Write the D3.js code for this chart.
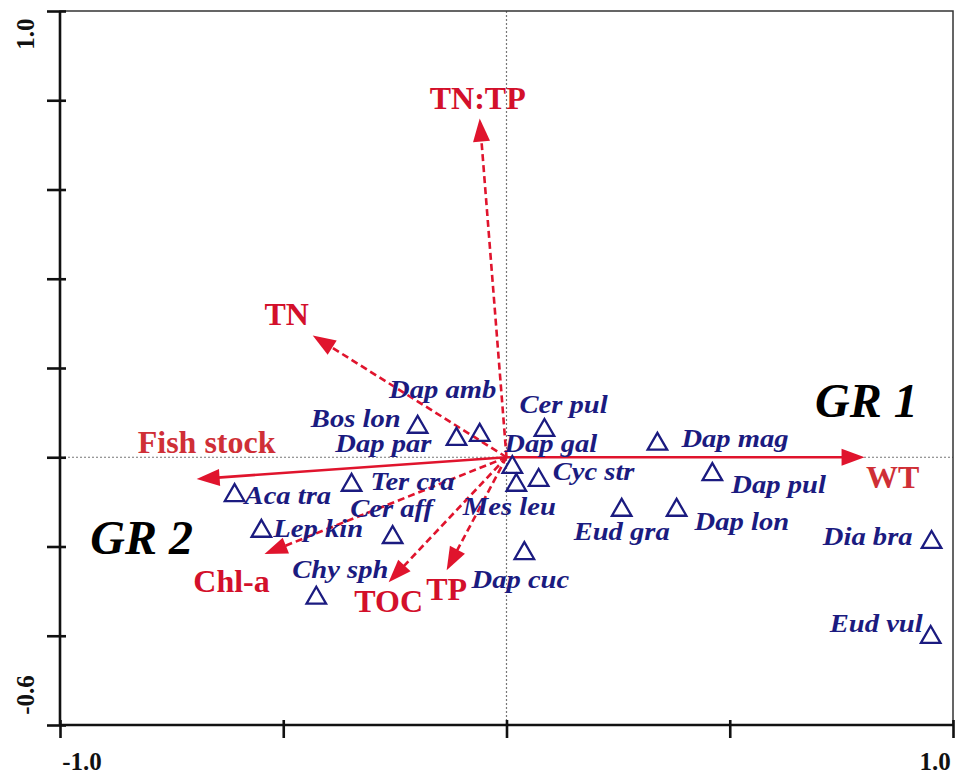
<!DOCTYPE html>
<html>
<head>
<meta charset="utf-8">
<script src="https://cdn.jsdelivr.net/npm/d3@7"></script>
<style>
  html, body { margin: 0; padding: 0; background: #fff; }
  svg { display: block; }
  text { font-family: "Liberation Serif", "Times New Roman", serif; }
</style>
</head>
<body>
<svg id="chart" width="956" height="776"></svg>
<script>
// ---- Species scores (RDA axis 1, axis 2) ----
const speciesNames = ["Aca tra", "Lep kin", "Ter cra", "Cer aff", "Chy sph", "Bos lon", "Dap par",
  "Dap amb", "Cer pul", "Dap gal", "Cyc str", "Mes leu", "Dap cuc", "Eud gra", "Dap lon",
  "Dap mag", "Dap pul", "Dia bra", "Eud vul"];
const speciesX = [-0.609, -0.549, -0.347, -0.255, -0.426, -0.199, -0.112,
  -0.060, 0.085, 0.013, 0.072, 0.022, 0.040, 0.258, 0.381,
  0.338, 0.461, 0.952, 0.950];
const speciesY = [-0.081, -0.161, -0.058, -0.175, -0.311, 0.072, 0.045,
  0.054, 0.065, -0.018, -0.047, -0.058, -0.211, -0.114, -0.114,
  0.034, -0.034, -0.186, -0.399];

// ---- Environmental variable vectors ----
const envNames = ["TN:TP", "TN", "Fish stock", "Chl-a", "TOC", "TP", "WT"];
const envX = [-0.060, -0.434, -0.694, -0.542, -0.264, -0.134, 0.802];
const envY = [0.759, 0.273, -0.049, -0.217, -0.280, -0.253, 0.0];
const envSolid = [false, false, true, false, false, false, true];

// ---- Axes ----
const xDomain = [-1.0, 1.0];
const yDomain = [-0.6, 1.0];
const xTicks = [-1.0, -0.5, 0, 0.5, 1.0];
const yTicks = [-0.6, -0.4, -0.2, 0, 0.2, 0.4, 0.6, 0.8, 1.0];
const xTickLabels = ["-1.0", "1.0"];
const yTickLabels = ["-0.6", "1.0"];

const groupLabels = ["GR 1", "GR 2"];

// ---- Layout (label offsets from the mark, in px) ----
const speciesLabelLayout = {
  "Aca tra": [10, 11, "start"],  "Lep kin": [12, 8, "start"],  "Ter cra": [19, 7, "start"],
  "Cer aff": [-1, -18, "middle"], "Chy sph": [24, -18, "middle"], "Bos lon": [-17, 2, "end"],
  "Dap par": [-25, 15, "end"],   "Dap amb": [-37, -35, "middle"], "Cer pul": [-25, -15, "start"],
  "Dap gal": [-8, -13, "start"], "Cyc str": [14, 2, "start"],  "Mes leu": [-7, 32, "middle"],
  "Dap cuc": [-4, 37, "middle"], "Eud gra": [0, 32, "middle"], "Dap lon": [18, 22, "start"],
  "Dap mag": [24, 5, "start"],   "Dap pul": [19, 21, "start"], "Dia bra": [-19, 5, "end"],
  "Eud vul": [-8, -3, "end"]
};
const envLabelLayout = {
  "TN:TP": [-2, -10], "TN": [-26, -10], "Fish stock": [10, -26], "Chl-a": [-33, 38],
  "TOC": [0, 30], "TP": [0, 30], "WT": [28, 31]
};

const svg = d3.select("#chart");
const x = d3.scaleLinear().domain(xDomain).range([60, 953]);
const y = d3.scaleLinear().domain(yDomain).range([725, 11]);

const RED = "#e0142d";
const NAVY = "#1b1b80";
const INK = "#111";

// reference lines through the origin
svg.append("line")
  .attr("x1", x(xDomain[0])).attr("x2", x(xDomain[1]))
  .attr("y1", y(0)).attr("y2", y(0))
  .attr("stroke", "#777").attr("stroke-width", 1.2).attr("stroke-dasharray", "2,2");
svg.append("line")
  .attr("x1", x(0)).attr("x2", x(0))
  .attr("y1", y(yDomain[0])).attr("y2", y(yDomain[1]))
  .attr("stroke", "#777").attr("stroke-width", 1.2).attr("stroke-dasharray", "2,2");

// frame
svg.append("rect")
  .attr("x", x(xDomain[0])).attr("y", y(yDomain[1]))
  .attr("width", x(xDomain[1]) - x(xDomain[0]))
  .attr("height", y(yDomain[0]) - y(yDomain[1]))
  .attr("fill", "none").attr("stroke", "#333").attr("stroke-width", 1.5);

// left and bottom axes
const yAxis = d3.axisLeft(y).tickValues(yTicks).tickSize(13).tickFormat("");
const gy = svg.append("g").attr("transform", `translate(${x(xDomain[0])},0)`).call(yAxis);
gy.selectAll(".tick line").attr("x2", -13).attr("x1", 6);
const xAxis = d3.axisBottom(x).tickValues(xTicks).tickSize(13).tickFormat("");
const gx = svg.append("g").attr("transform", `translate(0,${y(yDomain[0])})`).call(xAxis);
gx.selectAll(".tick line").attr("y1", -5);
[gx, gy].forEach(g => {
  g.select(".domain").attr("stroke", INK).attr("stroke-width", 2.6);
  g.selectAll(".tick line").attr("stroke", INK).attr("stroke-width", 2.6);
});
gy.select(".domain").attr("d", `M0,${y(yDomain[1])}V${y(yDomain[0])}`);
gx.select(".domain").attr("d", `M${x(xDomain[0])},0H${x(xDomain[1])}`);

// axis end labels
svg.append("text").text(xTickLabels[0])
  .attr("x", x(xDomain[0]) + 22).attr("y", 770)
  .attr("text-anchor", "middle").attr("font-size", 25).attr("font-weight", "bold").attr("fill", INK);
svg.append("text").text(xTickLabels[1])
  .attr("x", x(xDomain[1]) - 18).attr("y", 770)
  .attr("text-anchor", "middle").attr("font-size", 25).attr("font-weight", "bold").attr("fill", INK);
svg.append("text").text(yTickLabels[0])
  .attr("transform", `translate(34,${y(yDomain[0]) - 30}) rotate(-90)`)
  .attr("text-anchor", "middle").attr("font-size", 25).attr("font-weight", "bold").attr("fill", INK);
svg.append("text").text(yTickLabels[1])
  .attr("transform", `translate(34,${y(yDomain[1]) + 23}) rotate(-90)`)
  .attr("text-anchor", "middle").attr("font-size", 25).attr("font-weight", "bold").attr("fill", INK);

// environmental vectors
const headLen = 23, headHalf = 8.5;
const env = envNames.map((n, i) => ({ name: n, vx: envX[i], vy: envY[i], solid: envSolid[i] }));
const gEnv = svg.append("g");
env.forEach(d => {
  const x0 = x(0), y0 = y(0), x1 = x(d.vx), y1 = y(d.vy);
  const len = Math.hypot(x1 - x0, y1 - y0);
  const ux = (x1 - x0) / len, uy = (y1 - y0) / len;
  const bx = x1 - ux * headLen, by = y1 - uy * headLen;
  gEnv.append("line")
    .attr("x1", x0).attr("y1", y0).attr("x2", bx + ux * 2).attr("y2", by + uy * 2)
    .attr("stroke", RED).attr("stroke-width", 2.6)
    .attr("stroke-dasharray", d.solid ? null : "7,4");
  gEnv.append("path")
    .attr("d", `M${x1},${y1}L${bx - uy * headHalf},${by + ux * headHalf}L${bx + uy * headHalf},${by - ux * headHalf}Z`)
    .attr("fill", RED);
});

// species triangles and labels
const species = speciesNames.map((n, i) => ({ name: n, sx: speciesX[i], sy: speciesY[i] }));
const tri = d3.symbol().type(d3.symbolTriangle).size(165);
svg.append("g").selectAll("path").data(species).join("path")
  .attr("d", tri)
  .attr("transform", d => `translate(${x(d.sx)},${y(d.sy) + 2})`)
  .attr("fill", "none").attr("stroke", NAVY).attr("stroke-width", 2.3);

svg.append("g").selectAll("g").data(species).join("g")
  .attr("transform", d => {
    const L = speciesLabelLayout[d.name];
    return `translate(${x(d.sx) + L[0]},${y(d.sy) + L[1]}) scale(1.1,1)`;
  })
  .append("text")
  .text(d => d.name)
  .attr("text-anchor", d => speciesLabelLayout[d.name][2])
  .attr("font-size", 26).attr("font-weight", "bold").attr("font-style", "italic")
  .attr("fill", NAVY);

// environmental labels
svg.append("g").selectAll("text").data(env).join("text")
  .text(d => d.name)
  .attr("x", d => x(d.vx) + envLabelLayout[d.name][0])
  .attr("y", d => y(d.vy) + envLabelLayout[d.name][1])
  .attr("text-anchor", "middle")
  .attr("font-size", 32)
  .attr("font-weight", "bold")
  .attr("fill", d => (d.name === "Fish stock" || d.name === "WT") ? "#cf2f36" : "#d3102b");

// group labels
svg.append("text").text(groupLabels[0])
  .attr("x", 815).attr("y", 417)
  .attr("font-size", 48).attr("font-weight", "bold").attr("font-style", "italic").attr("fill", "#000");
svg.append("text").text(groupLabels[1])
  .attr("x", 193).attr("y", 554).attr("text-anchor", "end")
  .attr("font-size", 48).attr("font-weight", "bold").attr("font-style", "italic").attr("fill", "#000");
</script>
</body>
</html>
